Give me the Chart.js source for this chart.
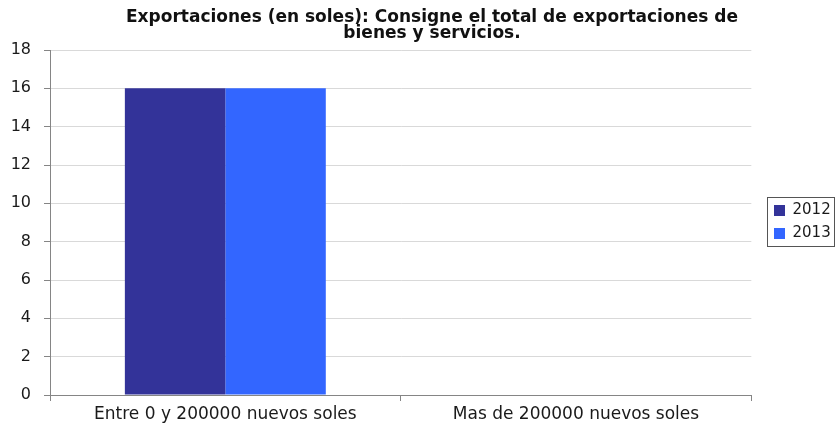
<!DOCTYPE html>
<html>
<head>
<meta charset="utf-8">
<script src="https://cdn.jsdelivr.net/npm/chart.js@4.4.1/dist/chart.umd.min.js"></script>
<style>
    html, body { margin: 0; padding: 0; background: #fff; }
    #wrap { width: 836px; height: 428px; }
</style>
</head>
<body>
<div id="wrap"><canvas id="chart" width="836" height="428"></canvas></div>
<script>
const titleLines = ['Exportaciones (en soles): Consigne el total de exportaciones de', 'bienes y servicios.'];
const categories = ['Entre 0 y 200000 nuevos soles', 'Mas de 200000 nuevos soles'];
const seriesNames = ['2012', '2013'];
const values2012 = [16, 0];
const values2013 = [16, 0];
const yTicks = [0, 2, 4, 6, 8, 10, 12, 14, 16, 18];

const color2012 = '#333399';
const color2013 = '#3366FF';
const axisColor = '#858585';
const gridColor = '#d9d9d9';
const textColor = '#1a1a1a';

// title drawn by hand so it can sit a bit right of the canvas centre, like the original
const titlePlugin = {
    id: 'twoLineTitle',
    afterDraw(chart) {
        const ctx = chart.ctx;
        ctx.save();
        ctx.font = 'bold 17px "DejaVu Sans"';
        ctx.fillStyle = '#111';
        ctx.textAlign = 'center';
        ctx.textBaseline = 'alphabetic';
        ctx.fillText(titleLines[0], 432, 22);
        ctx.fillText(titleLines[1], 432, 38);
        ctx.restore();
    }
};

// legend sits a little away from the plot and has a thin frame
const legendFrame = {
    id: 'legendFrame',
    afterLayout(chart) {
        const lg = chart.legend;
        const shift = 774 - (lg.left + lg.options.labels.padding);
        lg.left += shift;
        lg.right += shift;
        lg.top -= 17;
        lg.bottom -= 17;
    },
    afterDraw(chart) {
        const boxes = chart.legend.legendHitBoxes;
        if (!boxes || !boxes.length) return;
        const top = Math.min(...boxes.map(b => b.top));
        const bottom = Math.max(...boxes.map(b => b.top + b.height));
        const ctx = chart.ctx;
        ctx.save();
        ctx.strokeStyle = '#555';
        ctx.lineWidth = 1;
        ctx.strokeRect(767.5, top - 5.5, 67, bottom - top + 11);
        ctx.restore();
    }
};

new Chart(document.getElementById('chart'), {
    type: 'bar',
    data: {
        labels: categories,
        datasets: [
            {label: seriesNames[0], data: values2012, backgroundColor: color2012},
            {label: seriesNames[1], data: values2013, backgroundColor: color2013}
        ]
    },
    options: {
        responsive: false,
        animation: false,
        layout: {padding: {top: 50, left: 0, right: 10, bottom: 0}},
        datasets: {bar: {categoryPercentage: 0.573, barPercentage: 1}},
        plugins: {
            title: {display: false},
            tooltip: {enabled: false},
            legend: {
                position: 'right',
                labels: {
                    boxWidth: 11,
                    boxHeight: 11,
                    padding: 8,
                    color: textColor,
                    font: {family: '"DejaVu Sans"', size: 15}
                }
            }
        },
        scales: {
            x: {
                afterFit(scale) { scale.height = 33; },
                grid: {display: true, drawOnChartArea: false, drawTicks: true, tickLength: 6, tickColor: axisColor, offset: true},
                border: {color: axisColor},
                ticks: {color: textColor, padding: 3, font: {family: '"DejaVu Sans"', size: 17}}
            },
            y: {
                min: 0,
                max: 18,
                afterBuildTicks(scale) {
                    scale.ticks = yTicks.map(v => ({value: v}));
                },
                afterFit(scale) { scale.width = 50; },
                grid: {color: gridColor, tickColor: axisColor, tickLength: 6},
                border: {color: axisColor},
                ticks: {color: textColor, padding: 13, font: {family: '"DejaVu Sans"', size: 16}}
            }
        }
    },
    plugins: [titlePlugin, legendFrame]
});
</script>
</body>
</html>
